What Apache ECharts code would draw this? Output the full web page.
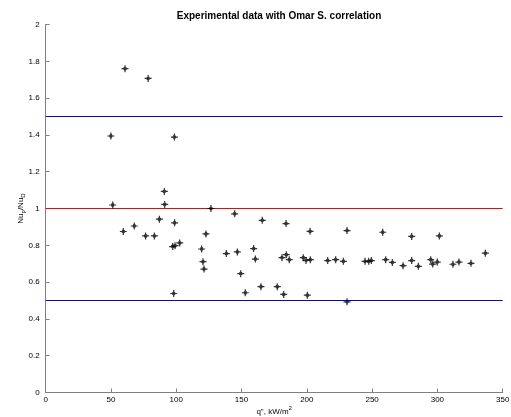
<!DOCTYPE html>
<html>
<head>
<meta charset="utf-8">
<script src="https://cdn.jsdelivr.net/npm/echarts@6/dist/echarts.min.js"></script>
<style>html,body{margin:0;padding:0;background:#fff}#c{width:511px;height:417px}</style>
</head>
<body>
<div id="c"></div>
<script>
const heatFlux = [50.0,60.8,78.5,98.6,51.4,90.9,91.2,87.1,98.8,59.5,67.9,76.6,83.3,97.3,99.1,102.7,98.1,
  126.6,122.8,119.5,120.5,121.3,138.4,144.8,165.9,184.1,202.5,146.8,159.3,160.6,181.0,184.3,186.6,197.3,199.4,202.7,216.0,222.1,149.4,152.9,164.9,177.4,182.3,200.4,
  230.8,258.1,280.3,301.5,228.0,244.6,247.4,249.4,260.4,265.5,273.7,280.3,285.4,294.9,296.4,299.9,311.9,316.5,325.7,336.7,230.8];
const nuRatio = [1.394,1.76,1.707,1.388,1.019,1.093,1.022,0.942,0.922,0.875,0.905,0.851,0.851,0.793,0.798,0.813,0.538,
  1.0,0.862,0.780,0.711,0.671,0.755,0.971,0.936,0.918,0.876,0.764,0.782,0.725,0.733,0.749,0.722,0.733,0.718,0.722,0.717,0.722,0.646,0.542,0.575,0.575,0.533,0.529,
  0.880,0.871,0.848,0.851,0.713,0.713,0.713,0.717,0.722,0.707,0.689,0.717,0.686,0.722,0.698,0.709,0.697,0.709,0.702,0.757,0.493];
const upperBand = 1.5, centerLine = 1.0, lowerBand = 0.5;
const xRange = [0, 350];

const points = heatFlux.map((x,i)=>[x, nuRatio[i]]);
const hline = v => xRange.map(x=>[x, v]);
const font = 'Liberation Sans, Arial, sans-serif';

function refLine(v, col){
  return {type:'line', data:hline(v), symbol:'none', color:col,
    itemStyle:{color:col}, lineStyle:{color:col, width:1, opacity:1}, silent:true, z:3};
}

const chart = echarts.init(document.getElementById('c'), null, {renderer:'canvas'});
chart.setOption({
  animation:false,
  backgroundColor:'#fff',
  title:{text:'Experimental data with Omar S. correlation', left:274, top:6, textAlign:'center',
    textStyle:{fontFamily:font, fontSize:10, fontWeight:'bold', color:'#000'}},
  grid:{left:45.6, right:8.3, top:24.5, bottom:24.5, containLabel:false, outerBoundsMode:'none'},
  xAxis:{type:'value', min:0, max:350, interval:50,
    name:'q", kW/m{sup|2}', nameLocation:'middle', nameGap:13, nameMoveOverlap:false,
    nameTextStyle:{fontFamily:font, fontSize:8, color:'#000', rich:{sup:{fontSize:6, verticalAlign:'top', padding:[0,0,6,0], fontFamily:font, color:'#000'}}},
    axisLine:{show:true, lineStyle:{color:'#808080', width:1}},
    axisTick:{show:true, inside:true, length:4, lineStyle:{color:'#808080'}},
    axisLabel:{fontFamily:font, fontSize:8, color:'#000', margin:3},
    splitLine:{show:false}},
  yAxis:{type:'value', min:0, max:2, interval:0.2,
    name:'Nu{sub|p}/Nu{sub|D}', nameLocation:'middle', nameGap:19, nameRotate:90, nameMoveOverlap:false,
    nameTextStyle:{fontFamily:font, fontSize:8, color:'#000', rich:{sub:{fontSize:6, verticalAlign:'bottom', padding:[5,0,0,0], fontFamily:font, color:'#000'}}},
    axisLine:{show:true, lineStyle:{color:'#808080', width:1}},
    axisTick:{show:true, inside:true, length:4, lineStyle:{color:'#808080'}},
    axisLabel:{fontFamily:font, fontSize:8, color:'#000', margin:6},
    splitLine:{show:false}},
  series:[
    refLine(upperBand, '#0000ff'),
    refLine(lowerBand, '#0000ff'),
    refLine(centerLine, '#ff0000'),
    {type:'scatter', data:points, symbol:'path://M0,-4L0,4M-4,0L4,0M-1.5,-1.5L1.5,1.5M-1.5,1.5L1.5,-1.5', symbolSize:7,
      itemStyle:{color:'rgba(0,0,0,0)', borderColor:'#000', borderWidth:1.2}, z:5}
  ]
});
</script>
</body>
</html>
